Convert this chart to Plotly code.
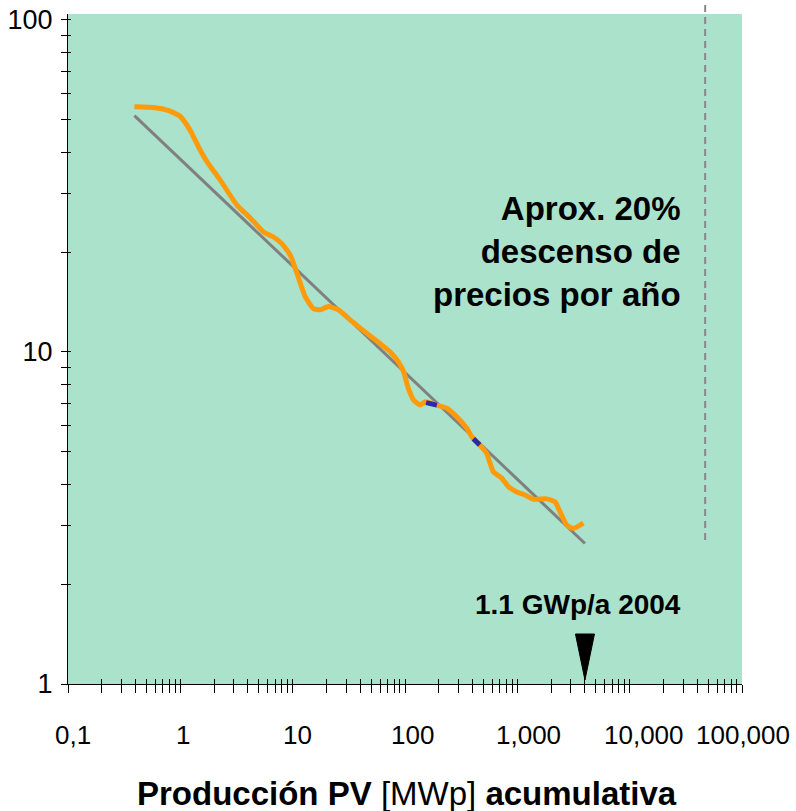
import math
import plotly.graph_objects as go

# ---------------- data ----------------
# cumulative PV production (MWp) vs module price (log-log)
price_x = [0.39, 0.60, 0.79, 1.0, 1.22, 1.50, 1.73, 2.26, 3.19, 4.21, 5.50, 6.75, 8.0, 9.5,
           10.9, 12.9, 15.3, 17.6, 20.8, 25.5, 32.5, 44, 60, 74, 87, 97, 107, 119, 136, 151,
           192, 236, 289, 355, 393, 462, 534, 572, 611, 726, 832, 988, 1170, 1390, 1830,
           2160, 2400, 2750, 3150, 3870]
price_y = [54.8, 54.4, 53.3, 51.2, 46.6, 40.6, 37.4, 33.0, 27.7, 25.3, 23.0, 22.2, 21.2, 19.6,
           17.3, 14.7, 13.5, 13.4, 13.7, 13.4, 12.5, 11.5, 10.6, 10.0, 9.35, 8.73, 7.78, 7.17,
           6.92, 7.08, 6.92, 6.77, 6.38, 5.89, 5.56, 5.25, 4.95, 4.62, 4.36, 4.17, 3.93, 3.79,
           3.71, 3.60, 3.61, 3.54, 3.30, 3.01, 2.94, 3.05]

# short blue-highlighted pieces of the price curve
blue1_x = [154, 192]
blue1_y = [7.04, 6.92]
blue2_x = [406, 462]
blue2_y = [5.48, 5.25]

# learning-curve trend line (~20 % per doubling)
trend_x = [0.39, 4000]
trend_y = [51.5, 2.65]

# 2004 marker and dashed limit line (MWp)
marker_2004_mwp = 4000
limit_line_mwp = 47000

x_tick_values = [0.1, 1, 10, 100, 1000, 10000, 100000]
x_tick_labels = ["0,1", "1", "10", "100", "1,000", "10,000", "100,000"]
y_tick_values = [1, 10, 100]
y_tick_labels = ["1", "10", "100"]

annotation_main = "<b>Aprox. 20%<br>descenso de<br>precios por año</b>"
annotation_2004 = "<b>1.1 GWp/a 2004</b>"
axis_title = "<b>Producción PV</b> [MWp] <b>acumulativa</b>"

# ---------------- figure ----------------
FONT = "Arial, 'Liberation Sans', sans-serif"
ORANGE = "#FF9A0A"
BLUE = "#2A2AAA"
GREY = "#808080"
BG = "#AAE2CB"

# minor tick positions (2..9 of each decade)
x_all_ticks = [m * 10 ** e for e in range(-1, 5) for m in range(1, 10)] + [100000]
y_all_ticks = [m * 10 ** e for e in range(0, 2) for m in range(1, 10)] + [100]
y_all_text = [y_tick_labels[y_tick_values.index(v)] if v in y_tick_values else "" for v in y_all_ticks]

fig = go.Figure()
fig.add_trace(go.Scatter(x=trend_x, y=trend_y, mode="lines",
                         line=dict(color=GREY, width=3), hoverinfo="skip"))
fig.add_trace(go.Scatter(x=price_x, y=price_y, mode="lines",
                         line=dict(color=ORANGE, width=5, shape="spline", smoothing=0.5)))
for bx, by in [(blue1_x, blue1_y), (blue2_x, blue2_y)]:
    fig.add_trace(go.Scatter(x=bx, y=by, mode="lines", line=dict(color=BLUE, width=5)))
# dummy trace for overlay axes (inside half of crossing ticks)
fig.add_trace(go.Scatter(x=[None], y=[None], xaxis="x2", yaxis="y2", mode="lines"))

x_range = [-1, 5]
y_range = [0, 2.018]

fig.update_layout(
    width=796, height=811,
    margin=dict(l=68, r=54, t=14, b=127),
    paper_bgcolor="white", plot_bgcolor=BG,
    showlegend=False,
    font=dict(family=FONT, color="black"),
    xaxis=dict(type="log", range=x_range, tickmode="array", tickvals=x_all_ticks,
               ticks="outside", ticklen=8, tickwidth=1, tickcolor="black",
               showticklabels=False, showline=True, linecolor="black", linewidth=1,
               showgrid=False, zeroline=False, automargin=False),
    yaxis=dict(type="log", range=y_range, tickmode="array", tickvals=y_all_ticks,
               ticktext=y_all_text, ticks="outside", ticklen=6, tickwidth=1,
               tickcolor="black", tickfont=dict(size=27, family=FONT),
               ticklabelstandoff=3,
               showline=True, linecolor="black", linewidth=1,
               showgrid=False, zeroline=False, automargin=False),
    xaxis2=dict(type="log", range=x_range, overlaying="x", anchor="y", side="bottom",
                tickmode="array", tickvals=x_all_ticks, ticks="inside", ticklen=5,
                tickwidth=1, tickcolor="black", showticklabels=False, showline=False,
                showgrid=False, zeroline=False, automargin=False),
    yaxis2=dict(type="log", range=y_range, overlaying="y", anchor="x", side="left",
                tickmode="array", tickvals=y_all_ticks, ticks="inside", ticklen=3,
                tickwidth=1, tickcolor="black", showticklabels=False, showline=False,
                showgrid=False, zeroline=False, automargin=False),
)

# dashed limit line (extends slightly above the plot)
fig.add_shape(type="line", xref="x", yref="paper", x0=limit_line_mwp, x1=limit_line_mwp,
              y0=0.215, y1=1.015, line=dict(color="#888888", width=2, dash="7px,5px"))

# 2004 arrow (down-pointing triangle)
fig.add_shape(type="path", xref="x", yref="paper", xsizemode="pixel", ysizemode="pixel",
              xanchor=marker_2004_mwp, yanchor=0,
              path="M -9.5,50 L 9.5,50 L 0,4 Z",
              fillcolor="black", line=dict(color="black", width=1))

# x tick labels (placed like the original)
label_shift = [5, 2.5, 4.7, 7.3, 11, 14.7, 1.3]
for v, t, s in zip(x_tick_values, x_tick_labels, label_shift):
    fig.add_annotation(x=(math.log10(v) - x_range[0]) / (x_range[1] - x_range[0]),
                       xref="paper", yref="paper", y=-0.0761, xanchor="center",
                       yanchor="middle", xshift=s, text=t, showarrow=False,
                       font=dict(size=26, family=FONT, color="black"))

fig.add_annotation(x=0.9125, y=0.645, xref="paper", yref="paper", xanchor="right",
                   yanchor="middle", align="right", text=annotation_main, showarrow=False,
                   font=dict(size=33, family=FONT, color="black"))
fig.add_annotation(x=0.9125, y=0.119, xref="paper", yref="paper", xanchor="right",
                   yanchor="middle", align="right", text=annotation_2004, showarrow=False,
                   font=dict(size=28, family=FONT, color="black"))
fig.add_annotation(x=0.503, y=-0.163, xref="paper", yref="paper", xanchor="center",
                   yanchor="middle", text=axis_title, showarrow=False,
                   font=dict(size=33, family=FONT, color="black"))

fig.write_html("out.html", config={"displayModeBar": False},
               post_script="document.body.style.margin='0';document.body.style.overflow='hidden';")
